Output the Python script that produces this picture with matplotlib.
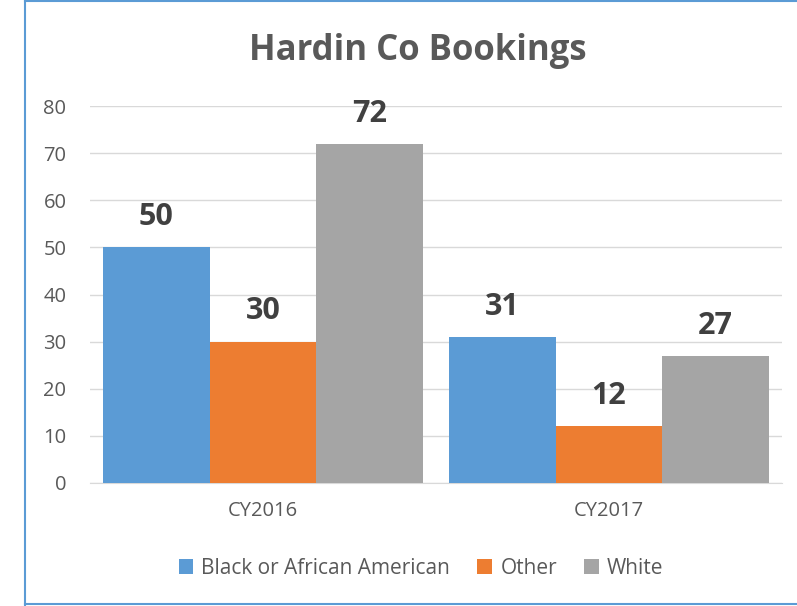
import matplotlib
matplotlib.use("Agg")
import matplotlib.pyplot as plt
import numpy as np

categories = ["CY2016", "CY2017"]
series_names = ["Black or African American", "Other", "White"]
black = [50, 31]
other = [30, 12]
white = [72, 27]
colors = ["#5B9BD5", "#ED7D31", "#A5A5A5"]
yticks = [0, 10, 20, 30, 40, 50, 60, 70, 80]

plt.rcParams['font.family'] = ['Open Sans', 'DejaVu Sans']

fig = plt.figure(figsize=(7.97, 6.06), dpi=100)
W, H = 797, 606
x0, x1 = 90, 782
y0, y1 = 483, 106
ax = fig.add_axes([x0 / W, 1 - y0 / H, (x1 - x0) / W, (y0 - y1) / H])

x = np.arange(len(categories))
bw = 0.308
for i, (vals, name, c) in enumerate(zip([black, other, white], series_names, colors)):
    bars = ax.bar(x + (i - 1) * bw, vals, bw, color=c, label=name, zorder=3)
    for b, v in zip(bars, vals):
        ax.text(b.get_x() + b.get_width() / 2, v + 4.7, str(v), ha="center", va="baseline",
                fontsize=22, fontweight="bold", color="#404040")

ax.set_xlim(-0.5, 1.5)
ax.set_ylim(0, 80)
ax.set_yticks(yticks)
ax.set_xticks(x)
ax.set_xticklabels(categories)
ax.tick_params(axis="both", length=0, labelsize=14.5, colors="#595959")
ax.tick_params(axis="y", pad=17)
ax.tick_params(axis="x", pad=13)
ax.grid(axis="y", color="#D9D9D9", linewidth=1, zorder=0)
for s in ["top", "right", "left"]:
    ax.spines[s].set_visible(False)
ax.spines["bottom"].set_color("#D9D9D9")

fig.text(418 / W, 1 - 60 / H, "Hardin Co Bookings", ha="center", va="baseline",
         fontsize=25, fontweight="bold", color="#595959")

leg = fig.legend(loc="center", bbox_to_anchor=(421 / W, 1 - 568 / H), ncol=3, frameon=False,
                 fontsize=15, handlelength=0.7, handleheight=0.7, columnspacing=1.3,
                 handletextpad=0.4, labelcolor="#595959")

# border
fig.add_artist(plt.Line2D([24.5 / W, 24.5 / W], [0, 1], color="#5B9BD5", lw=1.5))
fig.add_artist(plt.Line2D([24.5 / W, 1], [1 - 0.5 / H, 1 - 0.5 / H], color="#5B9BD5", lw=1.5))
fig.add_artist(plt.Line2D([24.5 / W, 1], [1 - 603.5 / H, 1 - 603.5 / H], color="#5B9BD5", lw=1.5))

fig.savefig("out.png", dpi=100)
